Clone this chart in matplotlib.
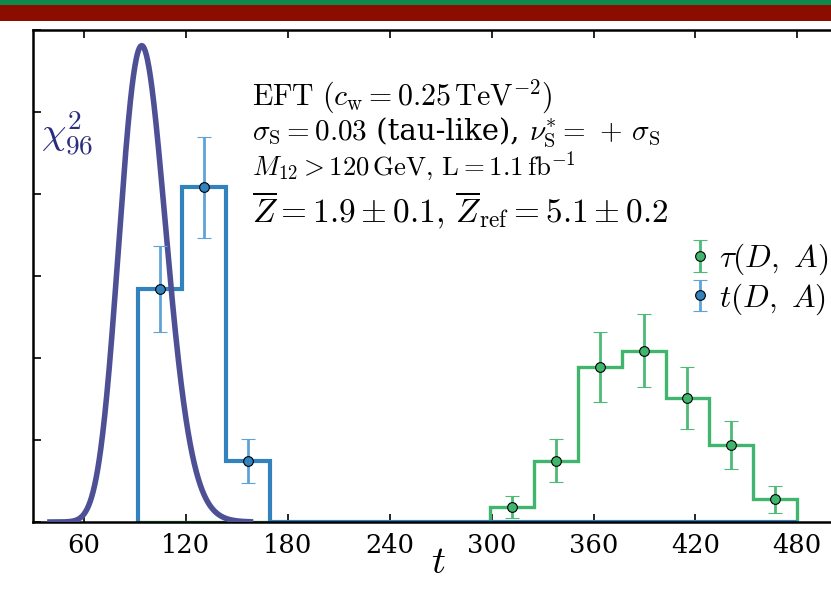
import os
import math
import numpy as np
import matplotlib
matplotlib.use('Agg')
import matplotlib.pyplot as plt
from matplotlib import font_manager
from matplotlib.patches import Rectangle

# make sure the serif face is registered
serif_file = os.path.join(matplotlib.get_data_path(), 'fonts', 'ttf', 'DejaVuSerif.ttf')
if os.path.exists(serif_file):
    font_manager.fontManager.addfont(serif_file)
serif_name = 'DejaVu Serif'
try:
    font_manager.findfont(serif_name, fallback_to_default=False)
except Exception:
    serif_name = 'Liberation Serif'

plt.rcParams['font.family'] = 'serif'
plt.rcParams['font.serif'] = [serif_name, 'Liberation Serif']
plt.rcParams['mathtext.fontset'] = 'cm'

# histogram bin edges (shared binning)
edges = np.linspace(92, 480, 16)

# t(D, A) - blue, density per bin
t_values = [0.0142, 0.0204, 0.0037, 0, 0, 0, 0, 0, 0, 0, 0, 0, 0, 0, 0]
t_errors = [0.0026, 0.0031, 0.00134, 0, 0, 0, 0, 0, 0, 0, 0, 0, 0, 0, 0]

# tau(D, A) - green, density per bin
tau_values = [0, 0, 0, 0, 0, 0, 0, 0, 0.00093, 0.00374, 0.00947, 0.01045, 0.00754, 0.0047, 0.00138]
tau_errors = [0, 0, 0, 0, 0, 0, 0, 0, 0.00066, 0.00132, 0.00213, 0.00224, 0.00189, 0.00148, 0.00081]

# chi2 reference curve
chi2_dof = 96
chi2_range = (40, 158)

xticks = [60, 120, 180, 240, 300, 360, 420, 480]

col_chi = '#4e5096'
col_t = '#3182bd'
col_t_err = '#5fa3d6'
col_tau = '#41b56d'
col_tau_err = '#4dba75'

fig = plt.figure(figsize=(8.31, 6.03), dpi=100)
ax = fig.add_axes([33 / 831, 81 / 603, 800 / 831, 492 / 603])

# chi2 pdf
x = np.linspace(chi2_range[0], chi2_range[1], 400)
k = chi2_dof / 2.0
logpdf = (k - 1) * np.log(x) - x / 2.0 - k * math.log(2) - math.lgamma(k)
ax.plot(x, np.exp(logpdf), color=col_chi, lw=4.0, zorder=3)

centers = 0.5 * (edges[:-1] + edges[1:])
t_values = np.array(t_values)
tau_values = np.array(tau_values)
t_mask = t_values > 0
tau_mask = tau_values > 0

ax.stairs(tau_values, edges, color=col_tau, lw=2.4, zorder=2)
ax.stairs(t_values, edges, color=col_t, lw=3.0, zorder=2)

ax.errorbar(centers[tau_mask], tau_values[tau_mask], yerr=np.array(tau_errors)[tau_mask],
            fmt='o', color=col_tau_err, ecolor=col_tau_err, mfc=col_tau, mec='black', mew=0.8,
            ms=7, elinewidth=2, capsize=5, capthick=1.6, zorder=4, label=r'$\tau(D,\ A)$')
ax.errorbar(centers[t_mask], t_values[t_mask], yerr=np.array(t_errors)[t_mask],
            fmt='o', color=col_t_err, ecolor=col_t_err, mfc=col_t, mec='black', mew=0.8,
            ms=7, elinewidth=2, capsize=5, capthick=1.6, zorder=4, label=r'$t(D,\ A)$')

ax.set_xlim(30, 501)
ax.set_ylim(0, 0.03)
ax.set_xticks(xticks)
ax.set_yticks(np.arange(0, 0.0301, 0.005))
ax.set_yticklabels([])
ax.tick_params(direction='in', top=True, right=False, length=6, width=1.2, labelsize=18.5, pad=8)
for s in ax.spines.values():
    s.set_linewidth(1.8)
ax.spines['right'].set_visible(False)

ax.set_xlabel(r'$t$', fontsize=28)
ax.xaxis.set_label_coords(0.507, -0.045)

ax.text(0.01, 0.79, r'$\chi^2_{96}$', transform=ax.transAxes, fontsize=28, color='#2b2e7e', va='center')

# info text block, pieces on one line placed one after the other
renderer = fig.canvas.get_renderer()
lines = [
    ([r'$\mathrm{EFT}\ (c_{\mathrm{w}} = 0.25\,\mathrm{TeV}^{-2})$'], 105, 21.5),
    ([r'$\sigma_{\mathrm{S}} = 0.03$', ' (tau-like), ', r'$\nu^{*}_{\mathrm{S}} = \,+\,\sigma_{\mathrm{S}}$'], 140, 21),
    ([r'$M_{12} > 120\,\mathrm{GeV},\,\mathrm{L} = 1.1\,\mathrm{fb}^{-1}$'], 175, 19.3),
    ([r'$\overline{Z} = 1.9 \pm 0.1,\,\overline{Z}_{\mathrm{ref}} = 5.1 \pm 0.2$'], 222, 24),
]
for parts, ypix, fs in lines:
    xpix = 252
    for p in parts:
        t = fig.text(xpix / 831, 1 - ypix / 603, p, fontsize=fs, va='baseline', ha='left')
        xpix = t.get_window_extent(renderer=renderer).x1

leg = ax.legend(loc='upper right', bbox_to_anchor=(1.01, 0.595), frameon=False, fontsize=22.5,
                handlelength=0.6, handletextpad=0.3, borderaxespad=0, labelspacing=0.12)

# top decoration bands
fig.add_artist(Rectangle((0, 1 - 5 / 603), 1, 5 / 603, transform=fig.transFigure, color='#0b8a4b', lw=0))
fig.add_artist(Rectangle((0, 1 - 21 / 603), 1, 16 / 603, transform=fig.transFigure, color='#8b0d00', lw=0))

fig.savefig('out.png', dpi=100)
